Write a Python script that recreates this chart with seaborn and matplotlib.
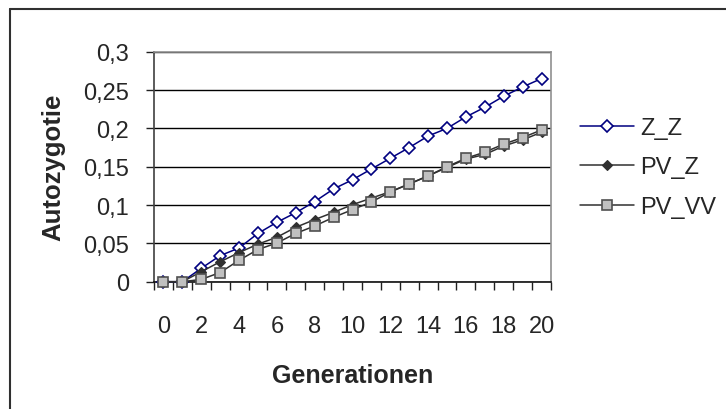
import matplotlib
matplotlib.use("Agg")
import matplotlib.pyplot as plt
from matplotlib.lines import Line2D
from matplotlib.ticker import FixedLocator, FixedFormatter
import seaborn as sns
import numpy as np

generations = list(range(21))
z_z = [0, 0, 0.0175, 0.034, 0.044, 0.063, 0.0775, 0.09, 0.1045, 0.121, 0.133,
       0.147, 0.161, 0.175, 0.19, 0.200, 0.215, 0.2275, 0.242, 0.254, 0.265]
pv_z = [0, 0, 0.013, 0.026, 0.038, 0.049, 0.058, 0.071, 0.081, 0.0905, 0.1005,
        0.109, 0.1175, 0.1275, 0.138, 0.149, 0.160, 0.166, 0.177, 0.185, 0.195]
pv_vv = [0, 0, 0.003, 0.012, 0.028, 0.042, 0.0505, 0.063, 0.0727, 0.084, 0.094,
         0.104, 0.117, 0.1275, 0.138, 0.150, 0.161, 0.169, 0.1795, 0.188, 0.198]
series_names = ["Z_Z", "PV_Z", "PV_VV"]
y_ticks = [0, 0.05, 0.1, 0.15, 0.2, 0.25, 0.3]
y_tick_labels = ["0", "0,05", "0,1", "0,15", "0,2", "0,25", "0,3"]
x_tick_labels = [str(g) for g in generations[::2]]

sns.set_style("white")
plt.rcParams['font.family'] = ['Liberation Sans', 'DejaVu Sans']

W, H = 726, 410
fig = plt.figure(figsize=(W / 100, H / 100), dpi=100)
ax = fig.add_axes([154 / W, 1 - 282.7 / H, (551 - 154) / W, (282.7 - 52.7) / H])

styles = [
    dict(color="#000080", marker="D", markersize=6.2, markerfacecolor="white",
         markeredgecolor="#000080", markeredgewidth=1.2, linewidth=1.1),
    dict(color="#303030", marker="D", markersize=5.0, markerfacecolor="#303030",
         markeredgecolor="#303030", markeredgewidth=0.8, linewidth=1.1),
    dict(color="#303030", marker="s", markersize=6.6, markerfacecolor="#C0C0C0",
         markeredgecolor="#505050", markeredgewidth=1.2, linewidth=1.1),
]
data = [z_z, pv_z, pv_vv]
for name, vals, st in zip(series_names, data, styles):
    sns.lineplot(x=generations, y=vals, ax=ax, label=name, zorder=3, clip_on=False, **st)

ax.set_xlim(-0.5, 20.5)
ax.set_ylim(0, 0.3)
ax.set_yticks(y_ticks)
ax.set_yticklabels(y_tick_labels)
ax.xaxis.set_major_locator(FixedLocator(generations[::2]))
ax.xaxis.set_major_formatter(FixedFormatter(x_tick_labels))
ax.xaxis.set_minor_locator(FixedLocator(np.arange(-0.5, 21, 1.0)))
ax.tick_params(axis='x', which='major', length=0, pad=24, labelsize=17)
ax.tick_params(axis='x', which='minor', length=5.8, width=1, direction='out',
               color='#202020', bottom=True)
ax.tick_params(axis='y', length=5.8, width=1, direction='out', color='#202020',
               pad=12, labelsize=17, left=True)

ax.yaxis.grid(True, color='black', linewidth=1)
ax.set_axisbelow(True)
for side, col in [("left", "#404040"), ("bottom", "#101010"), ("top", "#909090"), ("right", "#909090")]:
    ax.spines[side].set_color(col)
    ax.spines[side].set_linewidth(1.2)

ax.set_xlabel("Generationen", fontsize=18, fontweight='bold', labelpad=19)
ax.set_ylabel("Autozygotie", fontsize=18.5, fontweight='bold', labelpad=13)

if ax.legend_:
    ax.legend_.remove()
handles = [Line2D([0], [0], **st) for st in styles]
fig.legend(handles, series_names, loc='center left', bbox_to_anchor=(580 / W, 1 - 168.5 / H),
           frameon=False, fontsize=17, handlelength=2.3, handletextpad=0.25,
           labelspacing=0.75, borderpad=0, borderaxespad=0)

fig.add_artist(Line2D([10 / W, 1], [1 - 10 / H, 1 - 10 / H], transform=fig.transFigure,
                      color="#303030", linewidth=1.5))
fig.add_artist(Line2D([10 / W, 10 / W], [0, 1 - 10 / H], transform=fig.transFigure,
                      color="#303030", linewidth=1.5))

fig.savefig("out.png", dpi=100)
